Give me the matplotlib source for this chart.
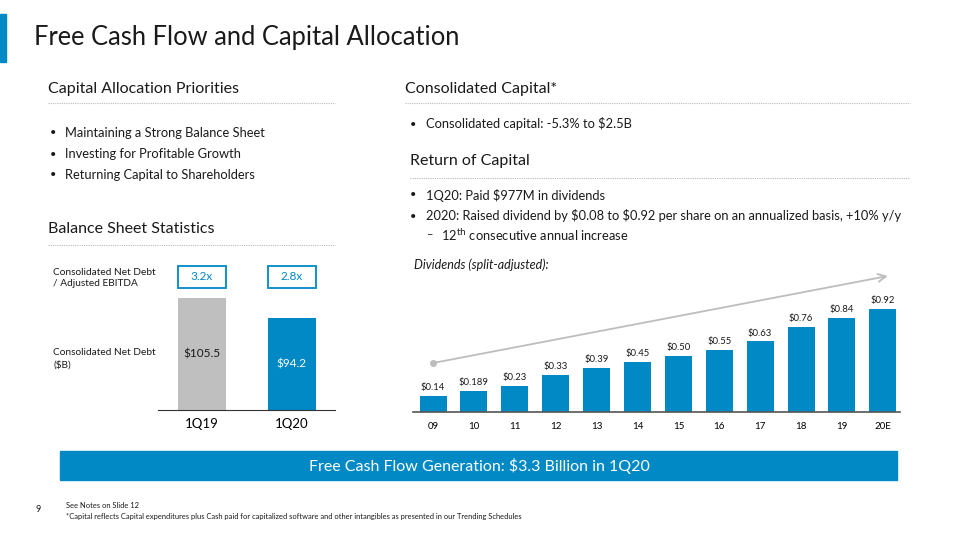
import matplotlib.pyplot as plt
from matplotlib.patches import Rectangle

plt.rcParams['font.family'] = ['Lato', 'DejaVu Sans']

# data
debt_periods = ["1Q19", "1Q20"]
net_debt = [105.5, 94.2]
debt_labels = ["$105.5", "$94.2"]
leverage = ["3.2x", "2.8x"]

div_years = ["09", "10", "11", "12", "13", "14", "15", "16", "17", "18", "19", "20E"]
dividends = [0.14, 0.189, 0.23, 0.33, 0.39, 0.45, 0.50, 0.55, 0.63, 0.76, 0.84, 0.92]
div_labels = ["$0.14", "$0.189", "$0.23", "$0.33", "$0.39", "$0.45", "$0.50",
              "$0.55", "$0.63", "$0.76", "$0.84", "$0.92"]

BLUE = "#0089C4"
GRAY = "#BFBFBF"
DARK = "#1a1a1a"
W, H = 960, 540

fig = plt.figure(figsize=(9.6, 5.4), dpi=100)


def P(x, y):
    return x / W, 1 - y / H


def text(x, y, s, **kw):
    kw.setdefault("va", "center")
    kw.setdefault("color", DARK)
    fig.text(*P(x, y), s, **kw)


def dotted(x0, x1, y):
    fig.add_artist(plt.Line2D([x0 / W, x1 / W], [1 - y / H] * 2, color="#bbbbbb",
                              lw=0.8, ls=(0, (1, 1))))


def axes_px(x0, y0, x1, y1):
    return fig.add_axes([x0 / W, 1 - y1 / H, (x1 - x0) / W, (y1 - y0) / H])


# accent bar and title
fig.add_artist(Rectangle(P(0, 62), 6 / W, 48 / H, color=BLUE, transform=fig.transFigure))
text(34, 38, "Free Cash Flow and Capital Allocation", fontsize=18.4)

# section headers
text(48, 89, "Capital Allocation Priorities", fontsize=11.5)
dotted(48, 335, 103)
text(405, 89, "Consolidated Capital*", fontsize=11.5)
dotted(405, 910, 103)
text(410, 161, "Return of Capital", fontsize=11.5)
dotted(410, 910, 178)
text(48, 229, "Balance Sheet Statistics", fontsize=11.5)
dotted(48, 335, 245)

# bullets
for i, s in enumerate(["Maintaining a Strong Balance Sheet",
                       "Investing for Profitable Growth",
                       "Returning Capital to Shareholders"]):
    y = 133 + 21 * i
    text(50, y, "•", fontsize=8)
    text(65, y, s, fontsize=9.3)

text(410, 124, "•", fontsize=8)
text(426, 124, "Consolidated capital: -5.3% to $2.5B", fontsize=9.3)
text(410, 195, "•", fontsize=8)
text(426, 195, "1Q20: Paid $977M in dividends", fontsize=9.3)
text(410, 216, "•", fontsize=8)
text(426, 216, r"2020: Raised dividend by \$0.08 to \$0.92 per share on an annualized basis, +10% y/y",
     fontsize=9.3)
text(427, 235, "–", fontsize=8)
text(441, 235, r"12$^{\mathrm{th}}$ consecutive annual increase", fontsize=9.3)
text(414, 265, "Dividends (split-adjusted):", fontsize=9, style="italic")

# left chart
text(53, 278, "Consolidated Net Debt\n/ Adjusted EBITDA", fontsize=7.3, linespacing=1.4)
text(53, 359, "Consolidated Net Debt\n($B)", fontsize=7.3, linespacing=1.4)

ax1 = axes_px(158, 260, 335, 410)
x1 = range(len(debt_periods))
bw = 0.53
ax1.bar(x1, net_debt, width=bw, color=[GRAY, BLUE], bottom=0)
ax1.set_xlim(-0.485, 1.48)
ax1.set_ylim(42.2, 127)
for i, v in enumerate(net_debt):
    mid = (v + 42.2) / 2
    ax1.text(i, mid, debt_labels[i], ha="center", va="center", fontsize=8.5,
             color=DARK if i == 0 else "white")
    ax1.add_patch(Rectangle((i - bw / 2, 111.2), bw, 12.4, fc="white", ec=BLUE, lw=1.3,
                            clip_on=False))
    ax1.text(i, 117.4, leverage[i], ha="center", va="center", fontsize=8.5, color=BLUE)
ax1.set_xticks(list(x1))
ax1.set_xticklabels(debt_periods, fontsize=9.5)
ax1.tick_params(length=0, pad=6)
ax1.set_yticks([])
for s in ["top", "right", "left"]:
    ax1.spines[s].set_visible(False)
ax1.spines["bottom"].set_color("#333333")
ax1.patch.set_alpha(0)

# right chart
ax2 = axes_px(413, 265, 900, 412)
x2 = range(len(div_years))
ax2.bar(x2, dividends, width=0.66, color=BLUE)
ax2.set_xlim(-0.49, 11.42)
ax2.set_ylim(0, 1.3125)
for i, v in enumerate(dividends):
    ax2.text(i, v + 0.035, div_labels[i], ha="center", va="bottom", fontsize=6.8, color=DARK)
ax2.annotate("", xy=(11.12, 1.214), xytext=(0, 0.4375),
             arrowprops=dict(arrowstyle="->", color="#bdbdbd", lw=1.3, shrinkA=0, shrinkB=0,
                             mutation_scale=14))
ax2.plot([0], [0.4375], "o", color="#bdbdbd", ms=4)
ax2.set_xticks(list(x2))
ax2.set_xticklabels(div_years, fontsize=7)
ax2.tick_params(length=0, pad=7)
ax2.set_yticks([])
for s in ["top", "right", "left"]:
    ax2.spines[s].set_visible(False)
ax2.spines["bottom"].set_color("#555555")
ax2.spines["bottom"].set_linewidth(1.2)
ax2.patch.set_alpha(0)

# banner
fig.add_artist(Rectangle(P(60, 480), 837 / W, 29 / H, color=BLUE, transform=fig.transFigure))
text(479, 466, "Free Cash Flow Generation: $3.3 Billion in 1Q20", fontsize=11.5,
     color="white", ha="center")

# footer
text(35, 509, "9", fontsize=6.5)
text(66, 506, "See Notes on Slide 12", fontsize=5.4)
text(66, 517, "*Capital reflects Capital expenditures plus Cash paid for capitalized software and other "
     "intangibles as presented in our Trending Schedules", fontsize=5.4)

fig.savefig("out.png", dpi=100)
